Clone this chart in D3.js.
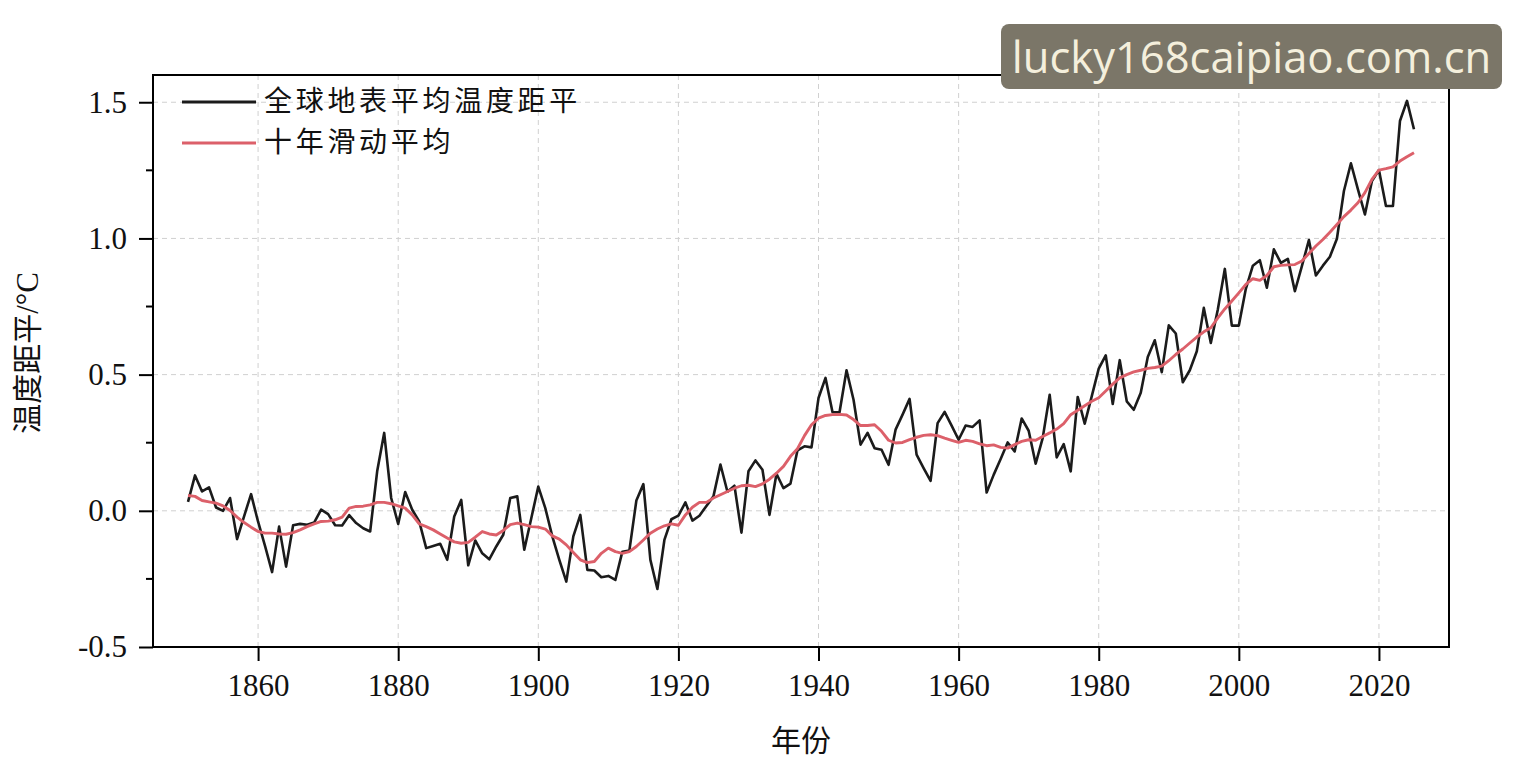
<!DOCTYPE html>
<html>
<head>
<meta charset="utf-8">
<script src="https://cdn.jsdelivr.net/npm/d3@7"></script>
<style>
  html, body { margin: 0; padding: 0; background: #fff; }
  svg { display: block; }
</style>
</head>
<body>
<svg id="chart" width="1525" height="762"></svg>
<script>
// annual global surface temperature anomaly, 1850 onwards (°C)
const startYear = 1850;
const anomaly = [
  0.033, 0.13, 0.071, 0.086, 0.012, 0.0, 0.047, -0.104, -0.02, 0.061,
  -0.04, -0.13, -0.225, -0.058, -0.205, -0.053, -0.048, -0.051, -0.043, 0.004,
  -0.012, -0.053, -0.054, -0.016, -0.045, -0.064, -0.076, 0.145, 0.286, 0.047,
  -0.048, 0.069, 0.004, -0.039, -0.137, -0.129, -0.121, -0.18, -0.021, 0.04,
  -0.2, -0.109, -0.156, -0.178, -0.131, -0.088, 0.047, 0.053, -0.143, -0.027,
  0.089, 0.01, -0.094, -0.18, -0.26, -0.094, -0.015, -0.217, -0.219, -0.244,
  -0.239, -0.254, -0.15, -0.146, 0.038, 0.098, -0.18, -0.287, -0.107, -0.031,
  -0.018, 0.031, -0.036, -0.018, 0.018, 0.053, 0.17, 0.07, 0.092, -0.08,
  0.145, 0.185, 0.151, -0.015, 0.136, 0.083, 0.1, 0.222, 0.237, 0.233,
  0.414, 0.488, 0.362, 0.362, 0.516, 0.408, 0.243, 0.286, 0.23, 0.224,
  0.169, 0.298, 0.353, 0.411, 0.206, 0.157, 0.11, 0.322, 0.363, 0.313,
  0.261, 0.313, 0.308, 0.332, 0.067, 0.132, 0.19, 0.251, 0.218, 0.339,
  0.294, 0.173, 0.267, 0.426, 0.196, 0.245, 0.145, 0.418, 0.32, 0.42,
  0.522, 0.571, 0.392, 0.553, 0.402, 0.371, 0.433, 0.565, 0.626, 0.509,
  0.681, 0.651, 0.472, 0.516, 0.586, 0.745, 0.616, 0.739, 0.888, 0.68,
  0.68, 0.815, 0.9, 0.92, 0.819, 0.96, 0.91, 0.925, 0.806, 0.898,
  0.994, 0.864, 0.9, 0.933, 0.999, 1.174, 1.276, 1.18, 1.088, 1.211,
  1.251, 1.119, 1.119, 1.431, 1.505, 1.401
];
// ten-year moving average, as drawn
const movingAvg = [
  0.056, 0.053, 0.038, 0.033, 0.028, 0.018, 0.001, -0.023, -0.043, -0.06,
  -0.076, -0.082, -0.082, -0.085, -0.086, -0.08, -0.07, -0.058, -0.048, -0.039,
  -0.038, -0.033, -0.023, 0.01, 0.016, 0.017, 0.022, 0.031, 0.031, 0.026,
  0.018, 0.01, -0.015, -0.048, -0.058, -0.07, -0.085, -0.1, -0.114, -0.119,
  -0.116, -0.097, -0.076, -0.085, -0.089, -0.072, -0.051, -0.045, -0.051, -0.058,
  -0.06, -0.067, -0.092, -0.104, -0.125, -0.153, -0.18, -0.19, -0.186, -0.156,
  -0.137, -0.15, -0.156, -0.15, -0.131, -0.107, -0.082, -0.067, -0.055, -0.048,
  -0.053, -0.015, 0.013, 0.031, 0.031, 0.047, 0.059, 0.071, 0.083, 0.092,
  0.094, 0.089, 0.099, 0.116, 0.138, 0.163, 0.2, 0.228, 0.276, 0.316,
  0.34, 0.35, 0.353, 0.354, 0.352, 0.335, 0.313, 0.313, 0.316, 0.292,
  0.259, 0.249, 0.251, 0.261, 0.27, 0.277, 0.279, 0.276, 0.267, 0.259,
  0.251, 0.259, 0.255, 0.246, 0.239, 0.242, 0.233, 0.23, 0.243, 0.255,
  0.261, 0.259, 0.273, 0.286, 0.3, 0.32, 0.353, 0.369, 0.386, 0.402,
  0.415, 0.44, 0.465, 0.488, 0.5, 0.51, 0.516, 0.523, 0.526, 0.531,
  0.551, 0.574, 0.594, 0.616, 0.638, 0.657, 0.672, 0.708, 0.741, 0.77,
  0.8, 0.831, 0.852, 0.846, 0.864, 0.896, 0.901, 0.903, 0.904, 0.917,
  0.945, 0.972, 0.996, 1.023, 1.051, 1.08, 1.104, 1.131, 1.168, 1.217,
  1.251, 1.256, 1.263, 1.284, 1.3, 1.315
];
const xTicks = [1860, 1880, 1900, 1920, 1940, 1960, 1980, 2000, 2020];
const yTicks = [-0.5, 0.0, 0.5, 1.0, 1.5];
const yMinorTicks = [-0.25, 0.25, 0.75, 1.25];
const seriesNames = ["全球地表平均温度距平", "十年滑动平均"];
const xTitle = "年份";
const yTitle = "温度距平";
const yUnit = "/°C";
const watermark = "lucky168caipiao.com.cn";

(function () {
  const margin = { top: 75, right: 76, bottom: 115, left: 153 };
  const width = 1525 - margin.left - margin.right;
  const height = 762 - margin.top - margin.bottom;

  const serif = "'Liberation Serif', 'Times New Roman', serif";
  const cjk = "'Noto Sans CJK SC', sans-serif";
  const black = "#1b1b1b";
  const red = "#dc606a";

  const root = d3.select("#chart");
  root.append("rect").attr("width", 1525).attr("height", 762).attr("fill", "#fff");

  const svg = root.append("g").attr("transform", `translate(${margin.left},${margin.top})`);

  const years = anomaly.map((_, i) => startYear + i);
  const x = d3.scaleLinear().domain([1845, 2030]).range([0, width]);
  const y = d3.scaleLinear().domain([-0.5, 1.6]).range([height, 0]);

  // dashed grid at the major ticks
  svg.append("g")
    .selectAll("line")
    .data(xTicks)
    .join("line")
    .attr("x1", d => x(d)).attr("x2", d => x(d))
    .attr("y1", 0).attr("y2", height)
    .attr("stroke", "#d0d0d0")
    .attr("stroke-width", 1)
    .attr("stroke-dasharray", "5,4");

  svg.append("g")
    .selectAll("line")
    .data(yTicks.filter(d => d > -0.5))
    .join("line")
    .attr("x1", 0).attr("x2", width)
    .attr("y1", d => y(d)).attr("y2", d => y(d))
    .attr("stroke", "#d0d0d0")
    .attr("stroke-width", 1)
    .attr("stroke-dasharray", "5,4");

  // series
  const line = d3.line()
    .x((d, i) => x(years[i]))
    .y(d => y(d));

  svg.append("path")
    .datum(anomaly)
    .attr("fill", "none")
    .attr("stroke", black)
    .attr("stroke-width", 2.6)
    .attr("stroke-linejoin", "round")
    .attr("d", line);

  svg.append("path")
    .datum(movingAvg)
    .attr("fill", "none")
    .attr("stroke", red)
    .attr("stroke-width", 2.9)
    .attr("stroke-linejoin", "round")
    .attr("d", line);

  // frame
  svg.append("rect")
    .attr("width", width)
    .attr("height", height)
    .attr("fill", "none")
    .attr("stroke", "#000")
    .attr("stroke-width", 2);

  // axes
  const fmt = d3.format(".1f");
  const xAxis = d3.axisBottom(x)
    .tickValues(xTicks)
    .tickFormat(d3.format("d"))
    .tickSize(14)
    .tickPadding(13);

  const yAxis = d3.axisLeft(y)
    .tickValues(yTicks)
    .tickFormat(d => fmt(d).replace("\u2212", "-"))
    .tickSize(14)
    .tickPadding(12);

  const xg = svg.append("g").attr("transform", `translate(0,${height})`).call(xAxis);
  const yg = svg.append("g").call(yAxis);

  [xg, yg].forEach(g => {
    g.select(".domain").remove();
    g.selectAll(".tick line").attr("stroke", "#000").attr("stroke-width", 2);
    g.selectAll(".tick text")
      .attr("fill", "#111")
      .style("font-family", serif)
      .style("font-size", "31px");
  });

  svg.append("g")
    .selectAll("line")
    .data(yMinorTicks)
    .join("line")
    .attr("x1", -7).attr("x2", 0)
    .attr("y1", d => y(d)).attr("y2", d => y(d))
    .attr("stroke", "#000")
    .attr("stroke-width", 2);

  // legend
  const legend = svg.append("g").attr("transform", "translate(29,25.5)");
  const legendColors = [black, red];
  seriesNames.forEach((name, i) => {
    const row = legend.append("g").attr("transform", `translate(0,${i * 41})`);
    row.append("line")
      .attr("x1", 0).attr("x2", 74)
      .attr("y1", 1.5).attr("y2", 1.5)
      .attr("stroke", legendColors[i])
      .attr("stroke-width", 3);
    row.append("text")
      .attr("x", 82)
      .attr("dy", "0.36em")
      .attr("fill", "#111")
      .style("font-family", cjk)
      .style("font-size", "28px")
      .style("letter-spacing", "3.7px")
      .text(name);
  });

  // axis titles
  root.append("text")
    .attr("x", margin.left + width / 2)
    .attr("y", 751)
    .attr("text-anchor", "middle")
    .attr("fill", "#111")
    .style("font-family", cjk)
    .style("font-size", "30px")
    .text(xTitle);

  const yt = root.append("text")
    .attr("transform", "translate(38,353) rotate(-90)")
    .attr("text-anchor", "middle")
    .attr("fill", "#111")
    .style("font-size", "30px");
  yt.append("tspan").style("font-family", cjk).text(yTitle);
  yt.append("tspan").style("font-family", serif).style("font-size", "31px").text(yUnit);

  // watermark overlay
  const wm = root.append("g").attr("transform", "translate(1001,24)");
  wm.append("rect")
    .attr("width", 501)
    .attr("height", 65)
    .attr("rx", 8)
    .attr("fill", "#7b7668");
  wm.append("text")
    .attr("x", 250.5)
    .attr("y", 49)
    .attr("text-anchor", "middle")
    .attr("fill", "#f4efdc")
    .style("font-family", "'Open Sans', 'Noto Sans', sans-serif")
    .style("font-size", "43.5px")
    .text(watermark);
})();
</script>
</body>
</html>
